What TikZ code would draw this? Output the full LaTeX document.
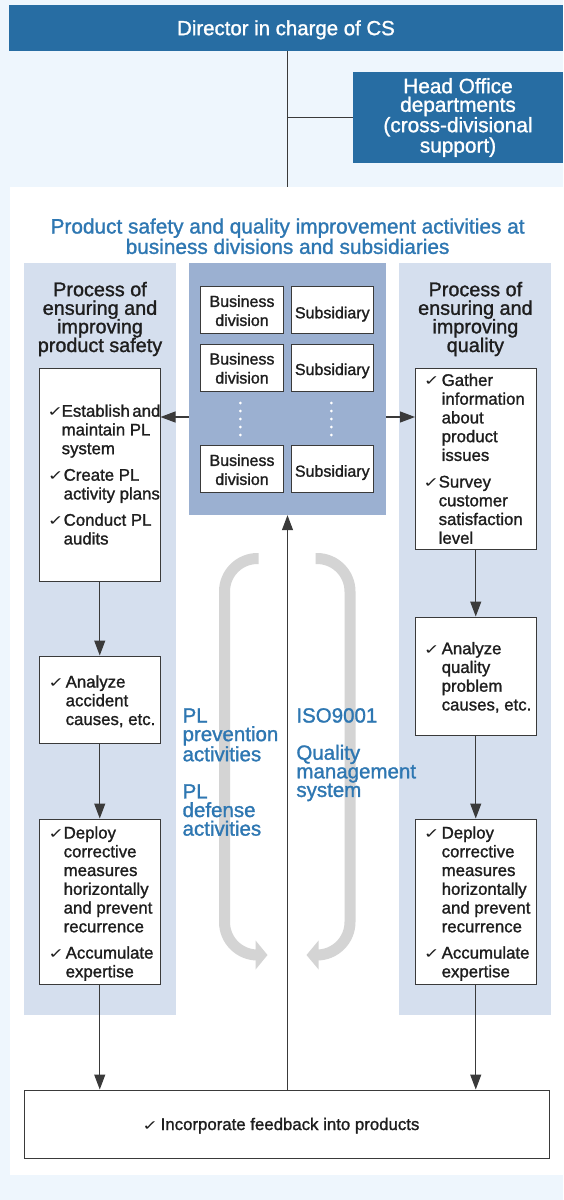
\documentclass[tikz,border=0pt]{standalone}
\usepackage{fontspec}
\setmainfont{Liberation Sans}[RawFeature={embolden=1.3}]
\newfontfamily\ckfont{DejaVu Sans}
\usetikzlibrary{arrows.meta}
\definecolor{bgc}{HTML}{EEF6FD}
\definecolor{barc}{HTML}{276DA3}
\definecolor{bluet}{HTML}{2E77B2}
\definecolor{panelc}{HTML}{D5DFEE}
\definecolor{centerc}{HTML}{9BB0D1}
\definecolor{grayarr}{HTML}{D4D4D4}
\definecolor{linec}{HTML}{3A3A3A}
\definecolor{txtc}{HTML}{1E1E1E}
\newcommand\firstln{\rule{0pt}{17pt}}
\newcommand\ckitem[5]{%
  \node[ckmark] (#1c) at (#2,#4) {✓};
  \node[itemtxt] (#1) at (#3,#4-17) {\firstln#5};}
\begin{document}
\begin{tikzpicture}[x=1pt,y=-1pt,
  body/.style={font=\fontsize{16.8}{18.75}\selectfont, text=txtc, inner sep=0pt},
  itemtxt/.style={body, anchor=north west, align=left},
  ckmark/.style={font=\ckfont\fontsize{14}{14}\selectfont, text=txtc, inner sep=0pt, anchor=base west, xscale=1.35, transform shape},
  panel/.style={fill=panelc, draw=none, inner sep=0pt},
  wbox/.style={draw=linec, line width=1pt, fill=white, inner sep=0pt},
  arr/.style={draw=linec, line width=1.1pt, -{Triangle[length=15pt,width=11pt]}},
  ln/.style={draw=linec, line width=1.1pt},
  garr/.style={draw=grayarr, line width=11pt},
  bluelab/.style={font=\fontsize{20.5}{18.6}\selectfont, text=bluet, inner sep=0pt, anchor=north west, align=left},
  head/.style={font=\fontsize{19.8}{18.6}\selectfont, text=txtc, inner sep=0pt, anchor=north, align=center},
  bustxt/.style={font=\fontsize{16}{19}\selectfont, text=txtc, inner sep=0pt, anchor=north, align=center},
  bussub/.style={font=\fontsize{16}{19}\selectfont, text=txtc, inner sep=0pt, anchor=base},
  bbox/.style={wbox, minimum width=82.6pt, minimum height=47pt}
]
\useasboundingbox (0,0) rectangle (563,1200);
\fill[bgc] (0,0) rectangle (563,1200);

% top bar
\node[fill=barc, inner sep=0pt, minimum width=554pt, minimum height=45.5pt,
  text=white, font=\fontsize{20.4}{22}\selectfont, text depth=0pt] (bar) at (286,27.75) {Director in charge of CS};
% head office
\node[fill=barc, inner sep=0pt, minimum width=210pt, minimum height=91pt,
  text=white, font=\fontsize{20.8}{18.6}\selectfont, align=center] (ho) at (458,117.5)
  {Head Office\\departments\\(cross-divisional\\support)};
% white panel
\node[fill=white, inner sep=0pt, minimum width=553pt, minimum height=988pt] (wp) at (286.5,681) {};

% panels
\node[panel, minimum width=152pt, minimum height=752pt] (lp) at (100,639) {};
\node[panel, minimum width=152pt, minimum height=752pt] (rp) at (475,639) {};
\node[fill=centerc, inner sep=0pt, minimum width=197pt, minimum height=252pt] (cp) at (287.5,389) {};

% connectors from top
\draw[ln] (bar.south -| cp.north) -- (wp.north -| cp.north);
\draw[ln] (cp.north |- ho.west) -- (ho.west);

% title
\node[font=\fontsize{20.8}{19}\selectfont, text=bluet, inner sep=0pt, anchor=north, align=center] (title) at (287.6,233.3-17)
  {\firstln Product safety and quality improvement activities at\\business divisions and subsidiaries};

% headers
\node[head] (lh) at (100,296-17) {\firstln Process of\\ensuring and\\improving\\product safety};
\node[head] (rh) at (475.4,296-17) {\firstln Process of\\ensuring and\\improving\\quality};

% business division / subsidiary boxes
\node[bbox] (bd1) at (242,309.5) {};
\node[bbox] (bd2) at (242,368) {};
\node[bbox] (bd3) at (242,469) {};
\node[bbox] (sb1) at (332.3,309.5) {};
\node[bbox] (sb2) at (332.3,368) {};
\node[bbox] (sb3) at (332.3,469) {};
\node[bustxt] (bd1t) at (242,306.7-17) {\firstln Business\\division};
\node[bustxt] (bd2t) at (242,364.3-17) {\firstln Business\\division};
\node[bustxt] (bd3t) at (242,465.7-17) {\firstln Business\\division};
\node[bussub] (sb1t) at (332.3,318.3) {Subsidiary};
\node[bussub] (sb2t) at (332.3,375) {Subsidiary};
\node[bussub] (sb3t) at (332.3,476.7) {Subsidiary};
\foreach \yy in {403,411,419,427,435} {
  \fill[white] (240.3,\yy) circle (1.5pt);
  \fill[white] (331.3,\yy) circle (1.5pt);
}

% white boxes
\node[wbox, minimum width=120.5pt, minimum height=213pt] (lb1) at (99.75,474.5) {};
\node[wbox, minimum width=120.5pt, minimum height=87pt] (lb2) at (99.75,699.5) {};
\node[wbox, minimum width=120.5pt, minimum height=165pt] (lb3) at (99.75,901.5) {};
\node[wbox, minimum width=120.5pt, minimum height=181pt] (rb1) at (475.75,458.5) {};
\node[wbox, minimum width=120.5pt, minimum height=118pt] (rb2) at (475.75,676) {};
\node[wbox, minimum width=120.5pt, minimum height=165pt] (rb3) at (475.75,901.5) {};
\node[wbox, minimum width=525pt, minimum height=68pt] (bb) at (286.5,1124) {};

% items
\ckitem{l1a}{47}{61.5}{416.5}{Establish\hspace{2.5pt}and\\maintain PL\\system}
\ckitem{l1b}{47.5}{63.5}{480.5}{Create PL\\activity plans}
\ckitem{l1c}{47.5}{63.5}{525.5}{Conduct PL\\audits}
\ckitem{l2a}{48}{65.5}{687.3}{Analyze\\accident\\causes, etc.}
\ckitem{l3a}{48}{63.5}{838.3}{Deploy\\corrective\\measures\\horizontally\\and prevent\\recurrence}
\ckitem{l3b}{48}{65.5}{958.3}{Accumulate\\expertise}
\ckitem{r1a}{423.5}{441.5}{385.7}{Gather\\information\\about\\product\\issues}
\ckitem{r1b}{423}{438.5}{487.3}{Survey\\customer\\satisfaction\\level}
\ckitem{r2a}{423.5}{441.5}{654}{Analyze\\quality\\problem\\causes, etc.}
\ckitem{r3a}{423.5}{441.5}{838.3}{Deploy\\corrective\\measures\\horizontally\\and prevent\\recurrence}
\ckitem{r3b}{423.5}{441.5}{958.3}{Accumulate\\expertise}
\node[ckmark] (bbc) at (142,1130) {✓};
\node[body, anchor=base west] (bbt) at (160.5,1130) {Incorporate feedback into products};

% gray curved arrows
\draw[garr, rounded corners=33pt] (258.5,558.5) -- (224.5,558.5) -- (224.5,955) -- (258,955);
\fill[grayarr] (255.6,940.5) -- (267.5,955) -- (255.6,969.5) -- cycle;
\draw[garr, rounded corners=33pt] (315.5,558.5) -- (350,558.5) -- (350,955) -- (316,955);
\fill[grayarr] (318.6,940.5) -- (306.5,955) -- (318.6,969.5) -- cycle;

% blue labels
\node[bluelab] (pll) at (182.4,722.3-17) {\firstln PL\\prevention\\activities\\[18.6pt]PL\\defense\\activities};
\node[bluelab] (isol) at (296.2,722.3-17) {\firstln ISO9001\\[18.6pt]Quality\\management\\system};

% connectors
\coordinate (hy) at (0,417);
\draw[arr] (cp.west |- hy) -- (lb1.east |- hy);
\draw[arr] (cp.east |- hy) -- (rb1.west |- hy);
\draw[arr] (lb1.south) -- (lb2.north);
\draw[arr] (lb2.south) -- (lb3.north);
\draw[arr] (lb3.south) -- (lb3.south |- bb.north);
\draw[arr] (rb1.south) -- (rb2.north);
\draw[arr] (rb2.south) -- (rb3.north);
\draw[arr] (rb3.south) -- (rb3.south |- bb.north);
\draw[arr] (bb.north -| cp.south) -- (cp.south);
\end{tikzpicture}
\end{document}
